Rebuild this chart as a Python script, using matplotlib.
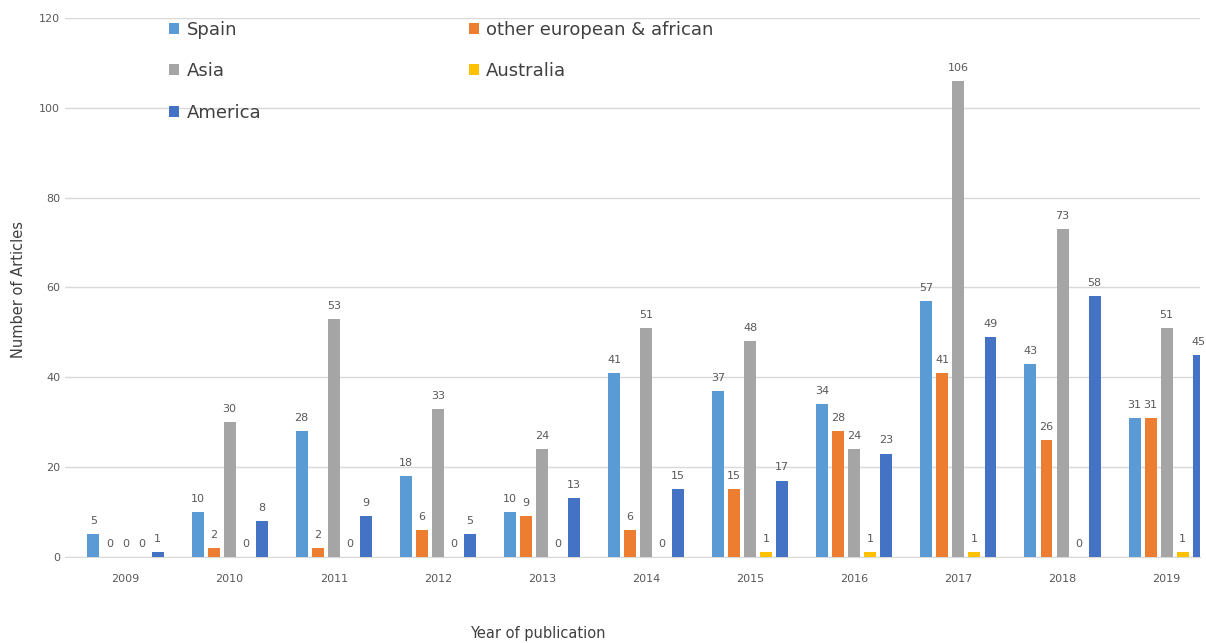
import numpy as np
import matplotlib
matplotlib.use("Agg")
from matplotlib import pyplot as plt

years = ["2009", "2010", "2011", "2012", "2013", "2014", "2015", "2016", "2017", "2018", "2019"]
spain = [5, 10, 28, 18, 10, 41, 37, 34, 57, 43, 31]
other_eu_af = [0, 2, 2, 6, 9, 6, 15, 28, 41, 26, 31]
asia = [0, 30, 53, 33, 24, 51, 48, 24, 106, 73, 51]
australia = [0, 0, 0, 0, 0, 0, 1, 1, 1, 0, 1]
america = [1, 8, 9, 5, 13, 15, 17, 23, 49, 58, 45]

series_names = ["Spain", "other european & african", "Asia", "Australia", "America"]
series_vals = [spain, other_eu_af, asia, australia, america]
colors = ["#5B9BD5", "#ED7D31", "#A5A5A5", "#FFC000", "#4472C4"]

fig = plt.figure(figsize=(12.06, 6.43), dpi=100)
ax = fig.add_axes([0.054, 0.134, 0.941, 0.838])

x = np.arange(len(years))
slot = 0.154
bw = 0.115
bars = []
for i, (name, vals, c) in enumerate(zip(series_names, series_vals, colors)):
    b = ax.bar(x + (i - 2) * slot, vals, width=bw, color=c, label=name, zorder=3)
    bars.append(b)
    # value labels on every bar, zeros included
    for xi, v in zip(x + (i - 2) * slot, vals):
        ax.text(xi, v + 1.8, str(v), ha="center", va="bottom", fontsize=8, color="#595959")

ax.set_ylim(0, 120)
ax.set_yticks(np.arange(0, 121, 20))
ax.set_xlim(-0.58, 10.32)
ax.set_xticks(x)
ax.set_xticklabels(years)
ax.grid(axis="y", color="#D9D9D9", linewidth=1, zorder=0)
for s in ["top", "right", "left"]:
    ax.spines[s].set_visible(False)
ax.spines["bottom"].set_color("#D9D9D9")
ax.tick_params(axis="both", length=0, labelsize=8, colors="#595959")
ax.tick_params(axis="x", pad=12)

fig.text(0.446, 0.003, "Year of publication", ha="center", va="bottom", fontsize=10.5, color="#404040")
fig.text(0.015, 0.55, "Number of Articles", ha="center", va="center", rotation=90, fontsize=10.5, color="#404040")

# legend is filled row-wise in the original, so reorder for matplotlib's column fill
order = [0, 2, 4, 1, 3]
leg = fig.legend([bars[k] for k in order], [series_names[k] for k in order], ncol=2,
                 loc="upper left", bbox_to_anchor=(0.127, 0.993), frameon=False,
                 fontsize=13, handlelength=0.55, handleheight=0.55, handletextpad=0.4,
                 labelspacing=1.3, columnspacing=11.5)
for t in leg.get_texts():
    t.set_color("#404040")

fig.savefig("out.png", dpi=100)
